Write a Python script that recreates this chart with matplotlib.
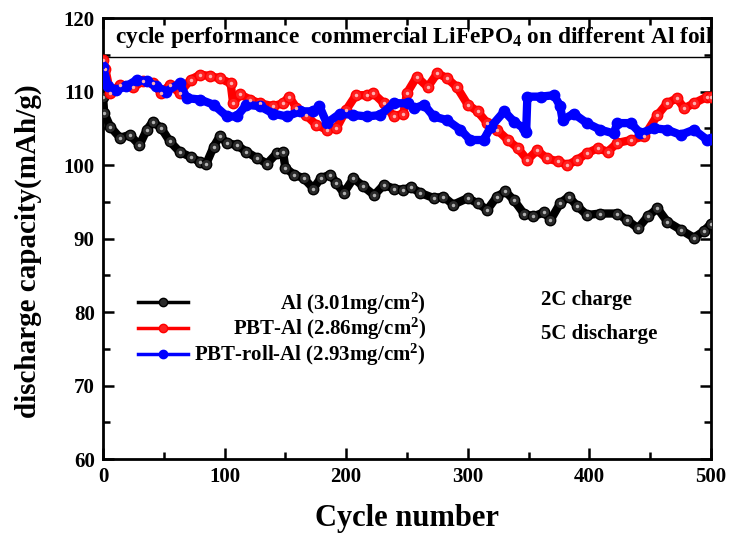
import matplotlib
matplotlib.use("Agg")
import matplotlib.pyplot as plt
from matplotlib.lines import Line2D
from matplotlib.ticker import MultipleLocator

plt.rcParams['font.family'] = ['Liberation Serif', 'DejaVu Serif']
plt.rcParams['font.weight'] = 'bold'
plt.rcParams['axes.labelweight'] = 'bold'
plt.rcParams['mathtext.fontset'] = 'custom'
plt.rcParams['mathtext.rm'] = 'Liberation Serif:bold'
plt.rcParams['mathtext.bf'] = 'Liberation Serif:bold'
plt.rcParams['mathtext.it'] = 'Liberation Serif:bold'

# --- data ---
al_cycle = [0, 1, 6, 14, 22, 30, 36, 41, 48, 55, 63, 72, 80, 85, 91, 96, 102, 110,
            118, 127, 135, 143, 148, 150, 157, 165, 173, 179, 187, 192, 198, 206,
            214, 223, 231, 239, 247, 253, 261, 272, 280, 288, 300, 308, 316, 324,
            331, 338, 346, 354, 363, 368, 376, 383, 390, 398, 409, 423, 431, 440,
            448, 456, 464, 475, 486, 494, 500]
al_cap = [109.3, 107.1, 105.2, 103.7, 104.1, 102.7, 104.8, 105.9, 105.0, 103.2, 101.8,
          101.1, 100.4, 100.2, 102.5, 103.9, 103.0, 102.7, 101.8, 100.9, 100.2, 101.6,
          101.8, 99.6, 98.7, 98.2, 96.8, 98.2, 98.7, 97.5, 96.2, 98.2, 97.1, 95.9,
          97.3, 96.8, 96.6, 97.0, 96.2, 95.5, 95.7, 94.6, 95.5, 94.8, 93.9, 95.7,
          96.4, 95.2, 93.4, 93.0, 93.6, 92.5, 94.8, 95.7, 94.4, 93.2, 93.4, 93.4,
          92.5, 91.4, 93.0, 94.1, 92.3, 91.2, 90.1, 91.0, 92.0]

pbt_cycle = [0, 2, 6, 14, 25, 33, 41, 48, 55, 63, 72, 80, 88, 96, 105, 107, 113, 121,
             129, 140, 148, 153, 159, 167, 175, 184, 192, 200, 208, 217, 222, 231,
             239, 247, 250, 258, 267, 275, 283, 291, 300, 308, 316, 324, 333, 341,
             349, 357, 365, 374, 382, 390, 398, 407, 415, 423, 434, 445, 456, 464,
             472, 478, 486, 497, 500]
pbt_cap = [114.3, 113.0, 109.8, 110.9, 110.6, 111.4, 111.1, 109.8, 110.9, 109.8, 111.6,
           112.3, 112.1, 111.8, 111.1, 108.4, 109.6, 108.9, 108.4, 108.0, 108.4, 109.3,
           107.8, 106.8, 105.5, 104.8, 105.0, 107.5, 109.5, 109.5, 109.8, 108.4, 106.6,
           107.0, 109.8, 112.0, 110.6, 112.5, 111.8, 110.6, 108.2, 107.3, 105.7, 104.8,
           103.4, 102.3, 100.7, 102.0, 100.9, 100.5, 100.0, 100.7, 101.6, 102.3, 101.8,
           103.0, 103.4, 103.9, 106.8, 108.4, 109.1, 107.7, 108.4, 109.3, 109.3]

roll_cycle = [0, 4, 11, 19, 28, 36, 44, 52, 63, 69, 80, 91, 102, 110, 118, 129, 140,
              151, 162, 173, 178, 184, 195, 206, 217, 228, 239, 251, 256, 264, 272,
              283, 294, 302, 313, 319, 330, 338, 346, 348, 349, 360, 371, 376, 378,
              387, 398, 409, 420, 423, 434, 442, 453, 464, 475, 486, 497, 500]
roll_cap = [113.4, 110.7, 110.2, 110.7, 111.6, 111.4, 110.7, 110.0, 111.1, 109.1, 108.9,
            108.2, 106.6, 106.6, 108.2, 108.0, 107.0, 106.6, 107.3, 107.3, 108.0, 105.7,
            107.0, 106.8, 106.6, 106.8, 108.4, 108.4, 107.7, 108.2, 106.6, 106.1, 104.8,
            103.4, 103.4, 105.2, 107.3, 105.9, 105.0, 104.5, 109.3, 109.3, 109.5, 108.0,
            106.1, 107.0, 105.7, 104.8, 104.3, 105.7, 105.7, 104.3, 105.0, 104.8, 104.1,
            104.8, 103.4, 103.6]

labels = ['Al (3.01mg/cm$^2$)', 'PBT-Al (2.86mg/cm$^2$)', 'PBT-roll-Al (2.93mg/cm$^2$)']
colors = ['black', 'red', 'blue']
faces = ['#2a2a2a', '#ff2020', '#0000ff']
highlights = ['#b0b0b0', '#ffb0b0', '#0000ff']
title_text = 'cycle performance  commercial LiFePO$_4$ on different Al foil'
box_line = 114.7

fig = plt.figure(figsize=(7.31, 5.39), dpi=100)
ax = fig.add_axes([0.1409, 0.1484, 0.8317, 0.8182])

series = [(al_cycle, al_cap), (pbt_cycle, pbt_cap), (roll_cycle, roll_cap)]
for (xs, ys), c, fc, hc in zip(series, colors, faces, highlights):
    ax.plot(xs, ys, color=c, lw=6, marker='o', ms=7.5, mfc=fc, mec=c, mew=1, zorder=3)
    ax.plot(xs, ys, ls='none', marker='o', ms=2.5, mfc=hc, mec='none', zorder=4)

ax.set_xlim(0, 500)
ax.set_ylim(60, 120)
ax.xaxis.set_major_locator(MultipleLocator(100))
ax.xaxis.set_minor_locator(MultipleLocator(50))
ax.yaxis.set_major_locator(MultipleLocator(10))
ax.yaxis.set_minor_locator(MultipleLocator(5))
ax.tick_params(which='both', direction='in', top=True, right=True, width=1.8,
               labelsize=15, pad=6)
ax.tick_params(which='major', length=8)
ax.tick_params(which='minor', length=5)
for s in ax.spines.values():
    s.set_linewidth(2)

ax.set_xlabel('Cycle number', fontsize=22, labelpad=12)
ax.set_ylabel('discharge capacity(mAh/g)', fontsize=21)
ax.yaxis.set_label_coords(-0.1, 0.472)

# header box along top of axes
ax.axhline(box_line, color='black', lw=1)
ax.text(0.02, 0.955, title_text, transform=ax.transAxes, fontsize=16.8,
        ha='left', va='center')

handles = [Line2D([], [], color=c, lw=2.5, marker='o', ms=6, mfc=fc, mec=c)
           for c, fc in zip(colors, faces)]
leg = ax.legend(handles, labels, loc='upper left', bbox_to_anchor=(0.027, 0.425),
                frameon=False, fontsize=15, handlelength=2.4, handletextpad=0.3,
                labelspacing=-0.02)
fig.canvas.draw()
r = fig.canvas.get_renderer()
widths = [t.get_window_extent(r).width for t in leg.get_texts()]
for t, w in zip(leg.get_texts(), widths):
    t.set_position((max(widths) - w, 0))

ax.text(360, 81.6, '2C charge', fontsize=15, ha='left', va='center')
ax.text(360, 77.0, '5C discharge', fontsize=15, ha='left', va='center')

fig.savefig('out.png', dpi=100)
